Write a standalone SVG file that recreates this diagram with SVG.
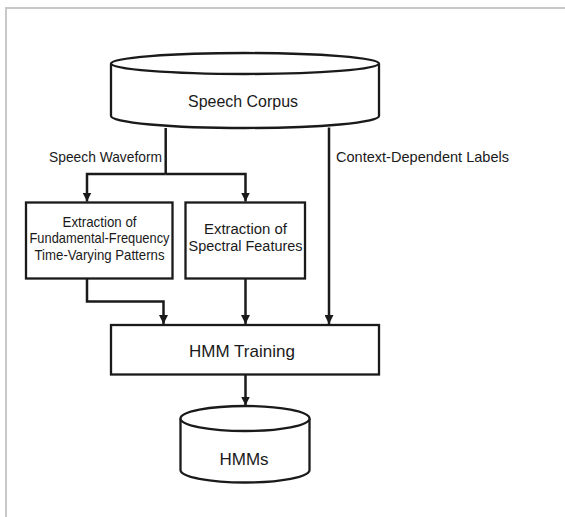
<svg xmlns="http://www.w3.org/2000/svg" width="565" height="517" viewBox="0 0 565 517">
<defs>
<style>
.shape{fill:#fff;stroke:#1a1a1a;stroke-width:2.3}
.edge{fill:none;stroke:#1a1a1a;stroke-width:2.5}
text{font-family:"Liberation Sans",Arial,sans-serif;fill:#1a1a1a;text-anchor:middle}
.lbl{text-anchor:start}
</style>
<marker id="arr" markerUnits="userSpaceOnUse" markerWidth="9" markerHeight="9" refX="9" refY="4.5" orient="auto">
<path d="M0,0 L9,4.5 L0,9 z" fill="#1a1a1a"/>
</marker>
</defs>
<rect width="565" height="517" fill="#fff"/>
<path d="M6,517 V8 H565" fill="none" stroke="#c8c8c8" stroke-width="2"/>

<g id="speech-corpus">
<path class="shape" d="M111,63.5 V116 A134,12 0 0 0 379,116 V63.5"/>
<ellipse class="shape" cx="245" cy="63.5" rx="134" ry="10.5"/>
<text x="243" y="107" font-size="16.5" textLength="110" lengthAdjust="spacingAndGlyphs">Speech Corpus</text>
</g>

<g id="f0-extraction">
<rect class="shape" x="26" y="202.5" width="146.5" height="76"/>
<text x="99.5" y="226.5" font-size="14.5" textLength="74" lengthAdjust="spacingAndGlyphs">Extraction of</text>
<text x="99.5" y="243.3" font-size="14.5" textLength="140" lengthAdjust="spacingAndGlyphs">Fundamental-Frequency</text>
<text x="99.5" y="259.5" font-size="14.5" textLength="130" lengthAdjust="spacingAndGlyphs">Time-Varying Patterns</text>
</g>

<g id="spectral-extraction">
<rect class="shape" x="185.5" y="202.5" width="119.5" height="76"/>
<text x="245.5" y="233.5" font-size="15.5" textLength="83" lengthAdjust="spacingAndGlyphs">Extraction of</text>
<text x="245.5" y="251" font-size="15.5" textLength="114" lengthAdjust="spacingAndGlyphs">Spectral Features</text>
</g>

<g id="hmm-training">
<rect class="shape" x="111" y="325" width="268" height="49.5"/>
<text x="242" y="356.5" font-size="17">HMM Training</text>
</g>

<g id="hmms">
<path class="shape" d="M180.5,418.5 V470 A64.5,12.5 0 0 0 309.5,470 V418.5"/>
<ellipse class="shape" cx="245" cy="418.5" rx="64.5" ry="12.5"/>
<text x="244" y="465" font-size="17">HMMs</text>
</g>

<g id="connectors">
<path class="edge" d="M165.7,128 V174"/>
<path class="edge" d="M165.7,174 H87 V201.5" marker-end="url(#arr)"/>
<path class="edge" d="M165.7,174 H245.5 V201.5" marker-end="url(#arr)"/>
<path class="edge" d="M329,127.5 V324" marker-end="url(#arr)"/>
<path class="edge" d="M87,279 V301.5 H163.5 V324" marker-end="url(#arr)"/>
<path class="edge" d="M245.5,279 V324" marker-end="url(#arr)"/>
<path class="edge" d="M245.5,375 V405.5" marker-end="url(#arr)"/>
<text class="lbl" x="49" y="161.5" font-size="15" textLength="113" lengthAdjust="spacingAndGlyphs">Speech Waveform</text>
<text class="lbl" x="336" y="161.5" font-size="15" textLength="173" lengthAdjust="spacingAndGlyphs">Context-Dependent Labels</text>
</g>
</svg>
